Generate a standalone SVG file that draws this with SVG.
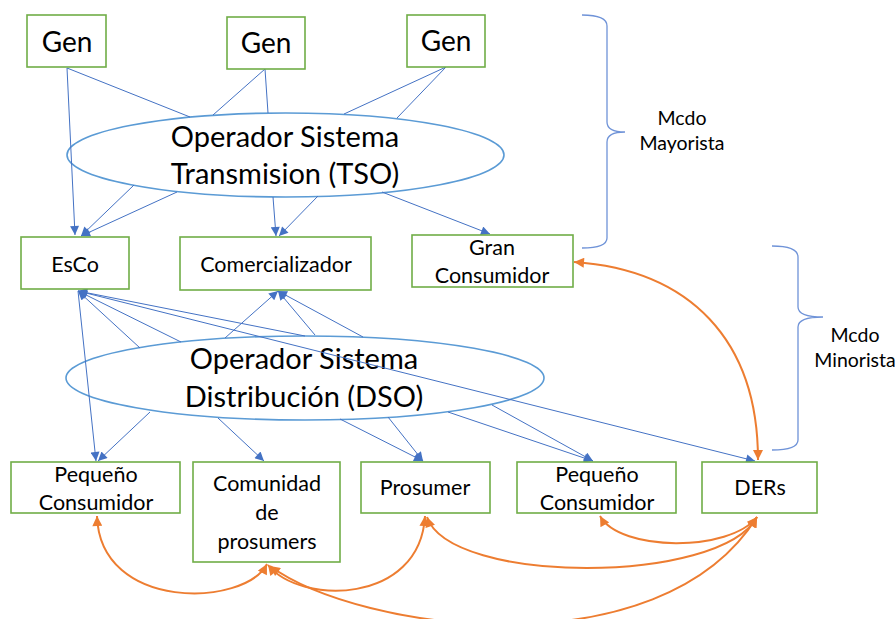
<svg xmlns="http://www.w3.org/2000/svg" width="895" height="619" viewBox="0 0 895 619">
  <style>
    .box { fill: #ffffff; stroke: #70AD47; stroke-width: 1.6; }
    .op { fill: #ffffff; stroke: #5B9BD5; stroke-width: 1.6; }
    .lbl { font-family: Lato, "Liberation Sans", sans-serif; font-size: 21.5px; fill: #000000; text-anchor: middle; }
    .gen { font-family: Lato, "Liberation Sans", sans-serif; font-size: 28px; fill: #000000; text-anchor: middle; }
    .big { font-family: Lato, "Liberation Sans", sans-serif; font-size: 29px; fill: #000000; text-anchor: middle; }
    .note { font-family: Lato, "Liberation Sans", sans-serif; font-size: 19.5px; fill: #000000; text-anchor: middle; }
    .ln { fill: none; stroke: #4472C4; stroke-width: 1; }
    .arw { fill: none; stroke: #4472C4; stroke-width: 1; marker-end: url(#bh); }
    .both { fill: none; stroke: #4472C4; stroke-width: 1; marker-start: url(#bh); marker-end: url(#bh); }
    .org { fill: none; stroke: #ED7D31; stroke-width: 2; marker-start: url(#oh); marker-end: url(#oh); }
    .brace { fill: none; stroke: #6F93D8; stroke-width: 1.3; }
  </style>
  <defs>
    <marker id="bh" viewBox="0 0 10 10" refX="10" refY="5" markerWidth="11" markerHeight="9" markerUnits="userSpaceOnUse" orient="auto-start-reverse">
      <path d="M0,0 L10,5 L0,10 z" fill="#4472C4"/>
    </marker>
    <marker id="oh" viewBox="0 0 10 10" refX="10" refY="5" markerWidth="11" markerHeight="10" markerUnits="userSpaceOnUse" orient="auto-start-reverse">
      <path d="M0,0 L10,5 L0,10 z" fill="#ED7D31"/>
    </marker>
  </defs>

  <rect width="895" height="619" fill="#ffffff"/>

  <!-- operators (drawn first so connectors cross over them) -->
  <g id="tso">
    <ellipse class="op" cx="285.5" cy="155" rx="218.5" ry="42"/>
    <text class="big" x="285" y="147">Operador Sistema</text>
    <text class="big" x="285" y="184">Transmision (TSO)</text>
  </g>
  <g id="dso">
    <ellipse class="op" cx="305" cy="378" rx="239" ry="42"/>
    <text class="big" x="304" y="369">Operador Sistema</text>
    <text class="big" x="304" y="407">Distribución (DSO)</text>
  </g>

  <!-- connectors -->
  <g id="connectors">
    <!-- generators to transmission -->
    <line class="arw" x1="67" y1="68" x2="75" y2="235"/>
    <line class="ln" x1="67" y1="68" x2="190" y2="117"/>
    <line class="ln" x1="265" y1="69" x2="213" y2="115"/>
    <line class="ln" x1="265" y1="69" x2="268" y2="113"/>
    <line class="ln" x1="446" y1="67" x2="344" y2="114"/>
    <line class="ln" x1="446" y1="67" x2="397" y2="118"/>
    <!-- transmission to wholesale agents -->
    <line class="arw" x1="134" y1="185" x2="81" y2="236"/>
    <line class="arw" x1="177" y1="192" x2="81" y2="236"/>
    <line class="arw" x1="273" y1="197" x2="276" y2="236"/>
    <line class="arw" x1="318" y1="196" x2="279" y2="236"/>
    <line class="arw" x1="382" y1="192" x2="490" y2="234"/>
    <!-- distribution links -->
    <line class="arw" x1="140" y1="348" x2="78" y2="291"/>
    <line class="arw" x1="181" y1="342" x2="78" y2="291"/>
    <line class="arw" x1="305" y1="336" x2="78" y2="291"/>
    <line class="both" x1="78" y1="291" x2="755" y2="461"/>
    <line class="arw" x1="78" y1="291" x2="96" y2="461"/>
    <line class="arw" x1="150" y1="412" x2="98" y2="461"/>
    <line class="arw" x1="225" y1="338" x2="278" y2="291"/>
    <line class="arw" x1="315" y1="335" x2="278" y2="291"/>
    <line class="arw" x1="363" y1="337" x2="278" y2="291"/>
    <line class="arw" x1="218" y1="418" x2="264" y2="461"/>
    <line class="arw" x1="340" y1="419" x2="423" y2="461"/>
    <line class="arw" x1="388" y1="417" x2="423" y2="461"/>
    <line class="arw" x1="448" y1="412" x2="593" y2="461"/>
    <line class="arw" x1="492" y1="405" x2="593" y2="461"/>
    <!-- peer exchanges -->
    <path class="org" d="M574,262 C690,270 758,340 758,460"/>
    <path class="org" d="M97,516 C100,612 245,607 267,564"/>
    <path class="org" d="M268,565 C300,605 420,605 425,516"/>
    <path class="org" d="M270,566 C360,632 660,672 757,517"/>
    <path class="org" d="M427,517 C450,585 720,585 757,517"/>
    <path class="org" d="M600,516 C620,552 730,552 757,517"/>
  </g>

  <!-- generators -->
  <g id="gen1"><rect class="box" x="27" y="15" width="79" height="52"/><text class="gen" x="67" y="52">Gen</text></g>
  <g id="gen2"><rect class="box" x="227" y="17" width="78" height="52"/><text class="gen" x="266" y="53">Gen</text></g>
  <g id="gen3"><rect class="box" x="407" y="15" width="78" height="52"/><text class="gen" x="446" y="51">Gen</text></g>

  <!-- wholesale agents -->
  <g id="esco"><rect class="box" x="21" y="237" width="108" height="52"/><text class="lbl" x="75" y="272">EsCo</text></g>
  <g id="comercializador"><rect class="box" x="180" y="237" width="191" height="53"/><text class="lbl" x="276" y="272">Comercializador</text></g>
  <g id="gran-consumidor"><rect class="box" x="412" y="235" width="161" height="52"/><text class="lbl" x="492" y="255">Gran</text><text class="lbl" x="492" y="283">Consumidor</text></g>

  <!-- retail agents -->
  <g id="pequeno1"><rect class="box" x="11" y="462" width="169" height="51"/><text class="lbl" x="96" y="482">Pequeño</text><text class="lbl" x="96" y="510">Consumidor</text></g>
  <g id="comunidad"><rect class="box" x="193" y="462" width="147" height="100"/><text class="lbl" x="267" y="491">Comunidad</text><text class="lbl" x="267" y="520">de</text><text class="lbl" x="267" y="549">prosumers</text></g>
  <g id="prosumer"><rect class="box" x="361" y="462" width="129" height="51"/><text class="lbl" x="425" y="495">Prosumer</text></g>
  <g id="pequeno2"><rect class="box" x="517" y="462" width="159" height="51"/><text class="lbl" x="597" y="482">Pequeño</text><text class="lbl" x="597" y="510">Consumidor</text></g>
  <g id="ders"><rect class="box" x="702" y="462" width="115" height="51"/><text class="lbl" x="760" y="495">DERs</text></g>

  <!-- market braces -->
  <g id="mayorista">
    <path class="brace" d="M582,15 Q607,15 607,26 L607,122 Q607,132 625,132 Q607,132 607,142 L607,238 Q607,248 582,248"/>
    <text class="note" x="682" y="125">Mcdo</text>
    <text class="note" x="682" y="150">Mayorista</text>
  </g>
  <g id="minorista">
    <path class="brace" d="M772,246 Q798,246 798,257 L798,307 Q798,317 823,317 Q798,317 798,327 L798,440 Q798,450 772,450"/>
    <text class="note" x="855" y="342">Mcdo</text>
    <text class="note" x="855" y="367">Minorista</text>
  </g>
</svg>
